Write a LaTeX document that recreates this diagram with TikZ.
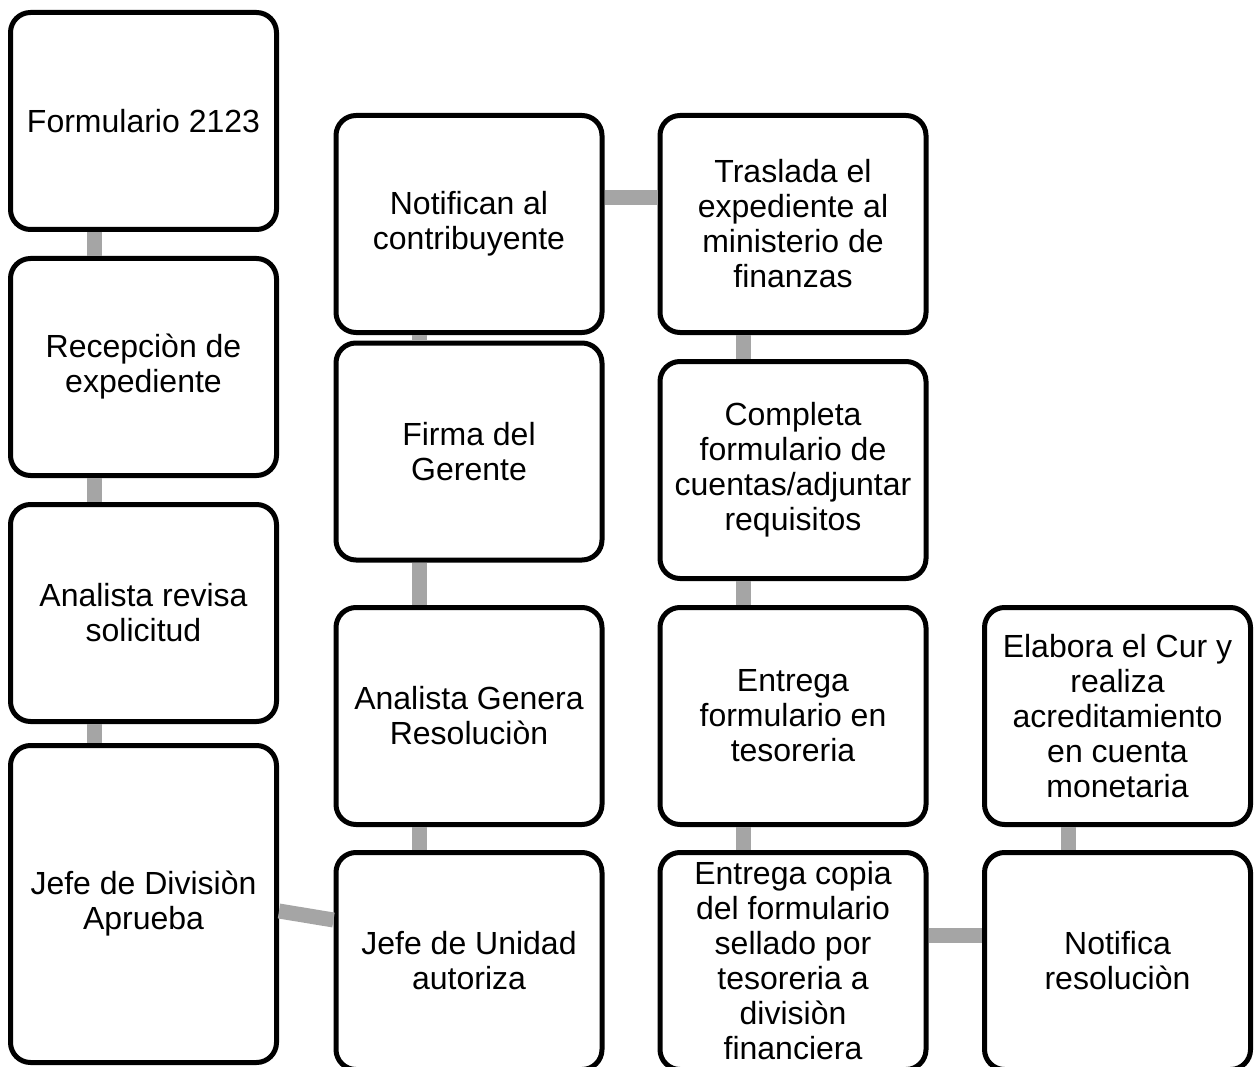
\documentclass[tikz,border=0pt]{standalone}
\usepackage{fontspec}
\setmainfont{Liberation Sans}
\usetikzlibrary{calc}
\definecolor{gris}{HTML}{A5A5A5}

\begin{document}
\begin{tikzpicture}[x=1pt,y=-1pt,
	caja/.style={draw=black,line width=5pt,fill=white,rounded corners=20pt,
		minimum width=266pt,minimum height=217pt,inner sep=2pt,align=center,
		font=\fontsize{32}{35}\selectfont},
	enlace/.style={draw=gris,line width=15pt}]
			\useasboundingbox (0,0) rectangle (1255,1067);
			% primera columna
			\node[caja] (form) at (143.5,121) {Formulario 2123};
			\node[caja] (recep) at (143.5,367) {Recepciòn de\\expediente};
			\node[caja] (revisa) at (143.5,613) {Analista revisa\\solicitud};
			\node[caja,minimum height=317pt] (jdiv) at (143.5,904) {Jefe de Divisiòn\\Aprueba};
			% segunda columna
			\node[caja] (notif) at (469,224) {Notifican al\\contribuyente};
			\node[caja] (firma) at (469,451.5) {Firma del\\Gerente};
			\node[caja] (genera) at (469,716) {Analista Genera\\Resoluciòn};
			\node[caja] (junid) at (469,961) {Jefe de Unidad\\autoriza};
			% tercera columna
			\node[caja] (trasl) at (793,224) {Traslada el\\expediente al\\ministerio de\\finanzas};
			\node[caja] (compl) at (793,470) {Completa\\formulario de\\cuentas/adjuntar\\requisitos};
			\node[caja] (entf) at (793,716) {Entrega\\formulario en\\tesoreria};
			\node[caja] (entc) at (793,961) {Entrega copia\\del formulario\\sellado por\\tesoreria a\\divisiòn\\financiera};
			% cuarta columna
			\node[caja] (elab) at (1117.5,716) {Elabora el Cur y\\realiza\\acreditamiento\\en cuenta\\monetaria};
			\node[caja] (notres) at (1117.5,961) {Notifica\\resoluciòn};
			% enlaces verticales
			\foreach \a/\b in {form/recep,recep/revisa,revisa/jdiv,genera/junid,firma/genera,notif/firma,trasl/compl,compl/entf,entf/entc,elab/notres}
			\draw[enlace] ($(\a.south west)+(86,0)$) -- ($(\b.north west)+(86,0)$);
			% enlaces horizontales
			\draw[enlace] ($(jdiv.north east)+(0,168)$) -- ($(junid.north west)+(0,70)$);
			\draw[enlace] ($(notif.north east)+(0,85)$) -- ($(trasl.north west)+(0,85)$);
			\draw[enlace] ($(entc.north east)+(0,85)$) -- ($(notres.north west)+(0,85)$);
\end{tikzpicture}
\end{document}
